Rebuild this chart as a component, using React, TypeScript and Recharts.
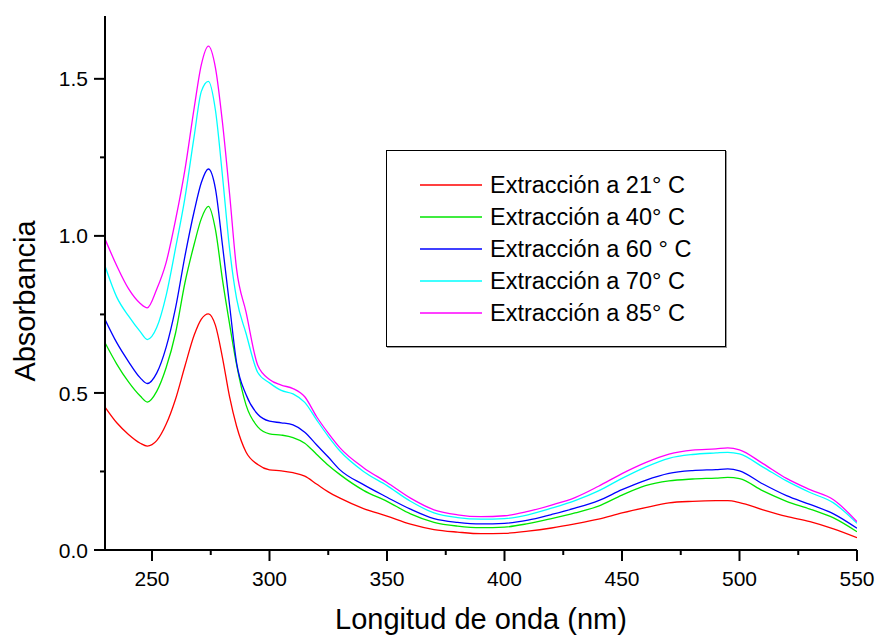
import { LineChart, Line, XAxis, YAxis, Legend, Label } from "recharts";

const FONT = "Arial, 'Liberation Sans', Helvetica, sans-serif";

const wavelength = [
  230, 235, 240, 245, 248, 252, 256, 260, 264, 268, 271, 274, 277, 280, 283, 286,
  290, 295, 300, 305, 310, 315, 320, 325, 330, 340, 350, 360, 370, 380, 390, 400,
  410, 420, 430, 440, 450, 460, 470, 480, 490, 495, 500, 510, 520, 530, 540, 550,
];

const ext21 = [
  0.455, 0.405, 0.368, 0.34, 0.331, 0.348, 0.4, 0.48, 0.585, 0.685, 0.735, 0.752, 0.715, 0.612, 0.488, 0.394,
  0.312, 0.272, 0.255, 0.252, 0.246, 0.235, 0.21, 0.185, 0.165, 0.132, 0.108, 0.082, 0.065, 0.057, 0.052, 0.053,
  0.06, 0.07, 0.083, 0.098, 0.118, 0.135, 0.15, 0.155, 0.157, 0.157, 0.151, 0.128, 0.107, 0.09, 0.067, 0.039,
];

const ext40 = [
  0.66, 0.592, 0.535, 0.49, 0.471, 0.505, 0.58, 0.69, 0.85, 0.975, 1.055, 1.094, 1.02, 0.86, 0.72, 0.59,
  0.462, 0.392, 0.37, 0.366, 0.358, 0.34, 0.305, 0.27, 0.24, 0.19, 0.155, 0.115, 0.088, 0.076, 0.071, 0.073,
  0.084, 0.1, 0.118, 0.14, 0.175, 0.205, 0.22, 0.226, 0.229, 0.231, 0.227, 0.188, 0.155, 0.13, 0.102, 0.058,
];

const ext60 = [
  0.734, 0.66, 0.6, 0.548, 0.53, 0.563, 0.645, 0.77, 0.935, 1.08, 1.17, 1.213, 1.15, 0.97, 0.78, 0.596,
  0.495, 0.432, 0.41, 0.405, 0.398, 0.375, 0.335, 0.296, 0.255, 0.208, 0.168, 0.13, 0.1, 0.088, 0.083, 0.085,
  0.095, 0.113, 0.133, 0.157, 0.192, 0.222, 0.244, 0.253, 0.256, 0.258, 0.252, 0.21, 0.173, 0.145, 0.115, 0.069,
];

const ext70 = [
  0.904, 0.805, 0.745, 0.695, 0.67, 0.708, 0.81, 0.96, 1.12, 1.32, 1.46, 1.492, 1.4, 1.19, 0.96, 0.8,
  0.69, 0.565, 0.532, 0.508, 0.497, 0.47, 0.415, 0.362, 0.315, 0.25, 0.205, 0.155, 0.118, 0.103, 0.098, 0.1,
  0.112, 0.133, 0.157, 0.188, 0.228, 0.264, 0.292, 0.304, 0.309, 0.311, 0.306, 0.264, 0.22, 0.183, 0.15, 0.085,
];

const ext85 = [
  0.99, 0.905, 0.832, 0.785, 0.771, 0.83, 0.915, 1.05, 1.21, 1.41, 1.545, 1.604, 1.535, 1.36, 1.135, 0.894,
  0.758, 0.588, 0.543, 0.525, 0.514, 0.488, 0.425, 0.372, 0.325, 0.262, 0.215, 0.165, 0.128, 0.112, 0.106, 0.109,
  0.123, 0.143, 0.167, 0.203, 0.243, 0.278, 0.305, 0.318, 0.322, 0.325, 0.319, 0.275, 0.228, 0.192, 0.16, 0.09,
];

const seriesNames = [
  "Extracción a 21° C",
  "Extracción a 40° C",
  "Extracción a 60 ° C",
  "Extracción a 70° C",
  "Extracción a 85° C",
];
const seriesColors = ["#ff0000", "#00e600", "#0000ff", "#00ffff", "#ff00ff"];
const seriesValues = [ext21, ext40, ext60, ext70, ext85];

const xTicks = [250, 275, 300, 325, 350, 375, 400, 425, 450, 475, 500, 525, 550];
const yTicks = [0, 0.25, 0.5, 0.75, 1.0, 1.25, 1.5];

const data = wavelength.map((w, i) => {
  const row: Record<string, number> = { x: w };
  seriesValues.forEach((vals, s) => {
    row["s" + s] = vals[i];
  });
  return row;
});

function XTick({ x, y, payload }: any) {
  const major = payload.value % 50 === 0;
  return (
    <g>
      <line x1={x} x2={x} y1={y} y2={y + (major ? 11 : 5)} stroke="#000" strokeWidth={2} />
      {major && (
        <text x={x} y={y + 36} textAnchor="middle" fontSize={21} fontFamily={FONT} fill="#000">
          {payload.value}
        </text>
      )}
    </g>
  );
}

function YTick({ x, y, payload }: any) {
  const major = Math.abs((payload.value * 2) % 1) < 1e-6;
  return (
    <g>
      <line x1={x - (major ? 11 : 5)} x2={x} y1={y} y2={y} stroke="#000" strokeWidth={2} />
      {major && (
        <text x={x - 17} y={y} dy="0.36em" textAnchor="end" fontSize={21} fontFamily={FONT} fill="#000">
          {payload.value.toFixed(1)}
        </text>
      )}
    </g>
  );
}

function LegendBox({ payload }: any) {
  return (
    <div
      style={{
        width: 340,
        height: 197,
        boxSizing: "border-box",
        border: "1.5px solid #000",
        boxShadow: "1px 1px 0 #999",
        background: "#fff",
        position: "relative",
        fontFamily: FONT,
      }}
    >
      {(payload || []).map((p: any, i: number) => (
        <div
          key={p.value}
          style={{
            position: "absolute",
            left: 33,
            top: 34 + i * 32 - 14,
            height: 28,
            display: "flex",
            alignItems: "center",
            whiteSpace: "nowrap",
          }}
        >
          <svg width={62} height={4} style={{ display: "block" }}>
            <line x1={0} x2={62} y1={2} y2={2} stroke={p.color} strokeWidth={1.3} />
          </svg>
          <span style={{ marginLeft: 8, fontSize: 23.5, color: "#000" }}>{p.value}</span>
        </div>
      ))}
    </div>
  );
}

export default function App() {
  return (
    <div style={{ position: "absolute", left: 0, top: 0, background: "#fff" }}>
      <LineChart width={876} height={635} data={data} margin={{ top: 16, right: 19, left: 0, bottom: 0 }}>
        <XAxis
          type="number"
          dataKey="x"
          domain={[230, 550]}
          ticks={xTicks}
          interval={0}
          height={85}
          tickSize={0}
          tickMargin={0}
          tickLine={false}
          tick={<XTick />}
          axisLine={{ stroke: "#000", strokeWidth: 2 }}
          allowDataOverflow
        >
          <Label
            content={() => (
              <text x={481} y={629} textAnchor="middle" fontSize={29} fontFamily={FONT} fill="#000">
                Longitud de onda (nm)
              </text>
            )}
          />
        </XAxis>
        <YAxis
          type="number"
          domain={[0, 1.7]}
          ticks={yTicks}
          interval={0}
          width={105}
          tickSize={0}
          tickMargin={0}
          tickLine={false}
          tick={<YTick />}
          axisLine={{ stroke: "#000", strokeWidth: 2 }}
          allowDataOverflow
        >
          <Label
            content={() => (
              <text
                x={35}
                y={301}
                transform="rotate(-90, 35, 301)"
                textAnchor="middle"
                fontSize={29}
                fontFamily={FONT}
                fill="#000"
              >
                Absorbancia
              </text>
            )}
          />
        </YAxis>
        <Legend
          layout="vertical"
          align="center"
          verticalAlign="middle"
          content={<LegendBox />}
          wrapperStyle={{ left: 386, top: 150, width: 340, height: 197 }}
        />
        {seriesNames.map((name, s) => (
          <Line
            key={name}
            type="monotone"
            dataKey={"s" + s}
            name={name}
            stroke={seriesColors[s]}
            strokeWidth={1.3}
            dot={false}
            activeDot={false}
            isAnimationActive={false}
          />
        ))}
      </LineChart>
    </div>
  );
}
